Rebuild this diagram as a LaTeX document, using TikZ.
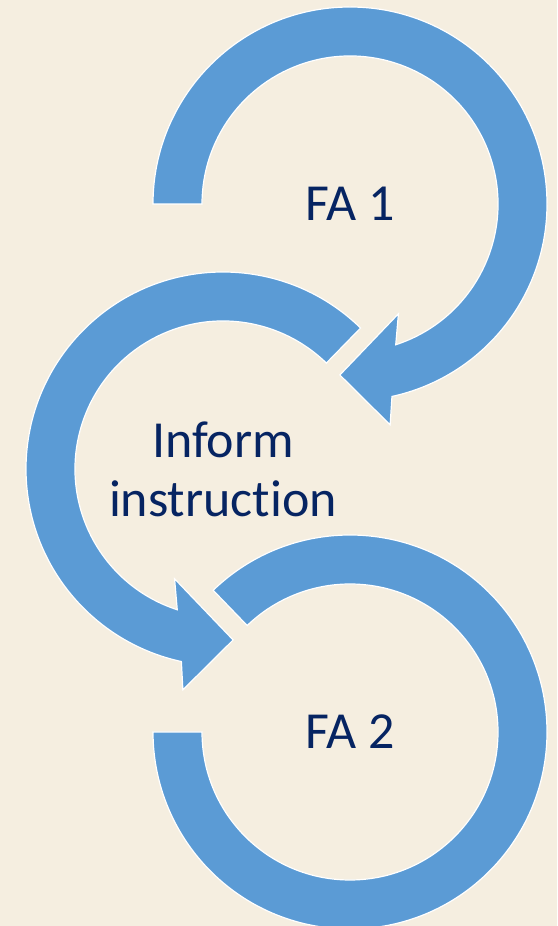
\documentclass[tikz,border=0pt]{standalone}
\usepackage{fontspec}
\setmainfont{Carlito}[Ligatures=NoCommon]
\definecolor{arrowblue}{HTML}{5B9BD5}
\definecolor{paper}{HTML}{F5EEE0}
\definecolor{textnavy}{HTML}{062462}
\begin{document}
\begin{tikzpicture}[x=1pt,y=1pt,
  loopband/.style={fill=arrowblue,draw=white,line width=1.2pt,line join=miter},
  lbl/.style={text=textnavy,font=\fontsize{52}{59}\selectfont,align=center}]
\fill[paper] (0,0) rectangle (557,926);
\useasboundingbox (0,0) rectangle (557,926);
\coordinate (c1) at (350,722);
\coordinate (c2) at (223,457);
\coordinate (c3) at (350,194);
% last loop, no head
\draw[loopband,shift={(c3)}] (134:197pt) arc[start angle=134,end angle=-180,radius=197pt]
   -- (180:148pt) arc[start angle=-180,end angle=134,radius=148pt] -- cycle;
% middle loop, counter clockwise
\draw[loopband,shift={(c2)}] (45.7:197pt) arc[start angle=45.7,end angle=257.8,radius=197pt]
   -- (259.7:224.5pt) -- (273.4:171.3pt) -- (246.2:120pt)
   -- (252:148pt) arc[start angle=252,end angle=45.7,radius=148pt] -- cycle;
% top loop, clockwise
\draw[loopband,shift={(c1)}] (180:197pt) arc[start angle=180,end angle=-77.7,radius=197pt]
   -- (-79.7:224.5pt) -- (-93.4:171.3pt) -- (-66.2:120pt)
   -- (-72:148pt) arc[start angle=-72,end angle=180,radius=148pt] -- cycle;
\node[lbl] (fa1) at (c1) {FA 1};
\node[lbl] (inform) at (c2) {Inform\\instruction};
\node[lbl] (fa2) at (c3) {FA 2};
\end{tikzpicture}
\end{document}
